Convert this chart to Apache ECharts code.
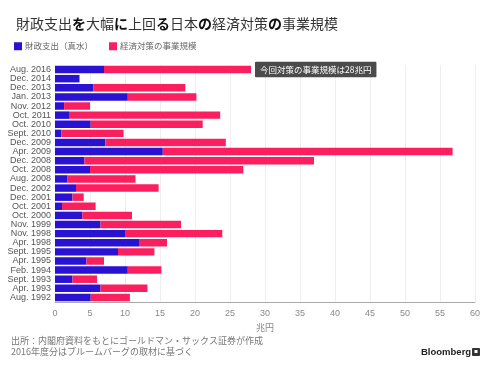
<!DOCTYPE html>
<html><head><meta charset="utf-8">
<script src="https://cdn.jsdelivr.net/npm/echarts@6/dist/echarts.min.js"></script>
<style>html,body{margin:0;padding:0;background:#fff}#c{width:488px;height:370px}</style>
</head><body><div id="c"></div>
<script>
var categories = ['Aug. 2016','Dec. 2014','Dec. 2013','Jan. 2013','Nov. 2012','Oct. 2011','Oct. 2010','Sept. 2010','Dec. 2009','Apr. 2009','Dec. 2008','Oct. 2008','Aug. 2008','Dec. 2002','Dec. 2001','Oct. 2001','Oct. 2000','Nov. 1999','Nov. 1998','Apr. 1998','Sept. 1995','Apr. 1995','Feb. 1994','Sept. 1993','Apr. 1993','Aug. 1992'];
var fiscalSpending = [7.0,3.5,5.5,10.4,1.3,2.0,5.1,0.9,7.2,15.4,4.2,5.0,1.8,3.0,2.5,1.0,3.9,6.5,10.0,12.0,9.0,4.5,10.4,2.5,6.5,5.1];
var packageSize = [28.0,3.5,18.6,20.2,5.0,23.6,21.1,9.8,24.4,56.8,37.0,26.9,11.5,14.8,4.1,5.8,11.0,18.0,23.9,16.0,14.2,7.0,15.2,6.0,13.2,10.7];
var xTicks = [0,5,10,15,20,25,30,35,40,45,50,55,60];
var seriesNames = ['財政支出（真水）','経済対策の事業規模'];
var annotationText = '今回対策の事業規模は28兆円';

var remainder = packageSize.map(function(t,i){ return Math.max(0, +(t - fiscalSpending[i]).toFixed(2)); });
var pinkData = remainder.map(function(v,i){
  if (i === 0) {
    return {value: v, label: {show: true, position: 'right', distance: 4, formatter: annotationText,
      color: '#fff', backgroundColor: '#4b4b4b', padding: [4, 5, 3, 5], fontSize: 8.5,
      fontFamily: '"Noto Sans CJK JP", sans-serif', borderRadius: 1}};
  }
  return v;
});

var chart = echarts.init(document.getElementById('c'), null, {renderer: 'canvas'});
var jp = '"Noto Sans CJK JP", sans-serif';
chart.setOption({
  animation: false,
  color: ['#2a12d2', '#fb1f5f'],
  title: {
    left: 11, top: 12,
    text: '{k|財政支出}{b|を}{k|大幅}{b|に}{k|上回}{b|る}{k|日本}{b|の}{k|経済対策}{b|の}{k|事業規模}',
    textStyle: {
      rich: {
        k: {fontSize: 14, fontFamily: jp, color: '#333', fontWeight: 'normal'},
        b: {fontSize: 14, fontFamily: jp, color: '#111', fontWeight: 'bold'}
      }
    }
  },
  legend: {
    left: 9, top: 37, itemWidth: 8, itemHeight: 8, itemGap: 16, icon: 'rect',
    textStyle: {fontSize: 8.5, color: '#666', fontFamily: jp, padding: [0,0,0,-2]},
    data: seriesNames
  },
  grid: {left: 55, right: 13, top: 65, bottom: 68, containLabel: false},
  xAxis: {
    type: 'value', min: 0, max: 60, interval: 5,
    name: '兆円', nameLocation: 'middle', nameGap: 20,
    nameTextStyle: {fontSize: 9, color: '#888', fontFamily: jp},
    axisLine: {show: true, lineStyle: {color: '#aaa'}},
    axisTick: {show: false},
    axisLabel: {fontSize: 9, color: '#888', margin: 7, fontFamily: 'Liberation Sans, Arial, sans-serif',
      formatter: function(v){ return xTicks.indexOf(v) >= 0 ? String(v) : ''; }},
    splitLine: {show: true, lineStyle: {color: '#eeeeee'}}
  },
  yAxis: {
    type: 'category', inverse: true, data: categories,
    axisLine: {show: false}, axisTick: {show: false},
    axisLabel: {interval: 0, fontSize: 9, color: '#555', margin: 4, fontFamily: 'Liberation Sans, Arial, sans-serif'}
  },
  series: [
    {name: seriesNames[0], type: 'bar', stack: 't', data: fiscalSpending, barCategoryGap: '18%'},
    {name: seriesNames[1], type: 'bar', stack: 't', data: pinkData, barCategoryGap: '18%'}
  ],
  graphic: [
    {type: 'text', left: 11, top: 336, style: {text: '出所：内閣府資料をもとにゴールドマン・サックス証券が作成', fontSize: 9, fill: '#777', fontFamily: jp}},
    {type: 'text', left: 11, top: 347, style: {text: '2016年度分はブルームバーグの取材に基づく', fontSize: 9, fill: '#777', fontFamily: jp}},
    {type: 'text', left: 421, top: 347, style: {text: 'Bloomberg', fontSize: 9.5, fontWeight: 'bold', fill: '#222', fontFamily: 'Liberation Sans, Arial, sans-serif'}},
    {type: 'rect', left: 472, top: 348, shape: {width: 8, height: 8, r: 1}, style: {fill: '#333'}},
    {type: 'rect', left: 474.5, top: 350, shape: {width: 3, height: 3}, style: {fill: '#fff'}}
  ]
});
</script></body></html>
